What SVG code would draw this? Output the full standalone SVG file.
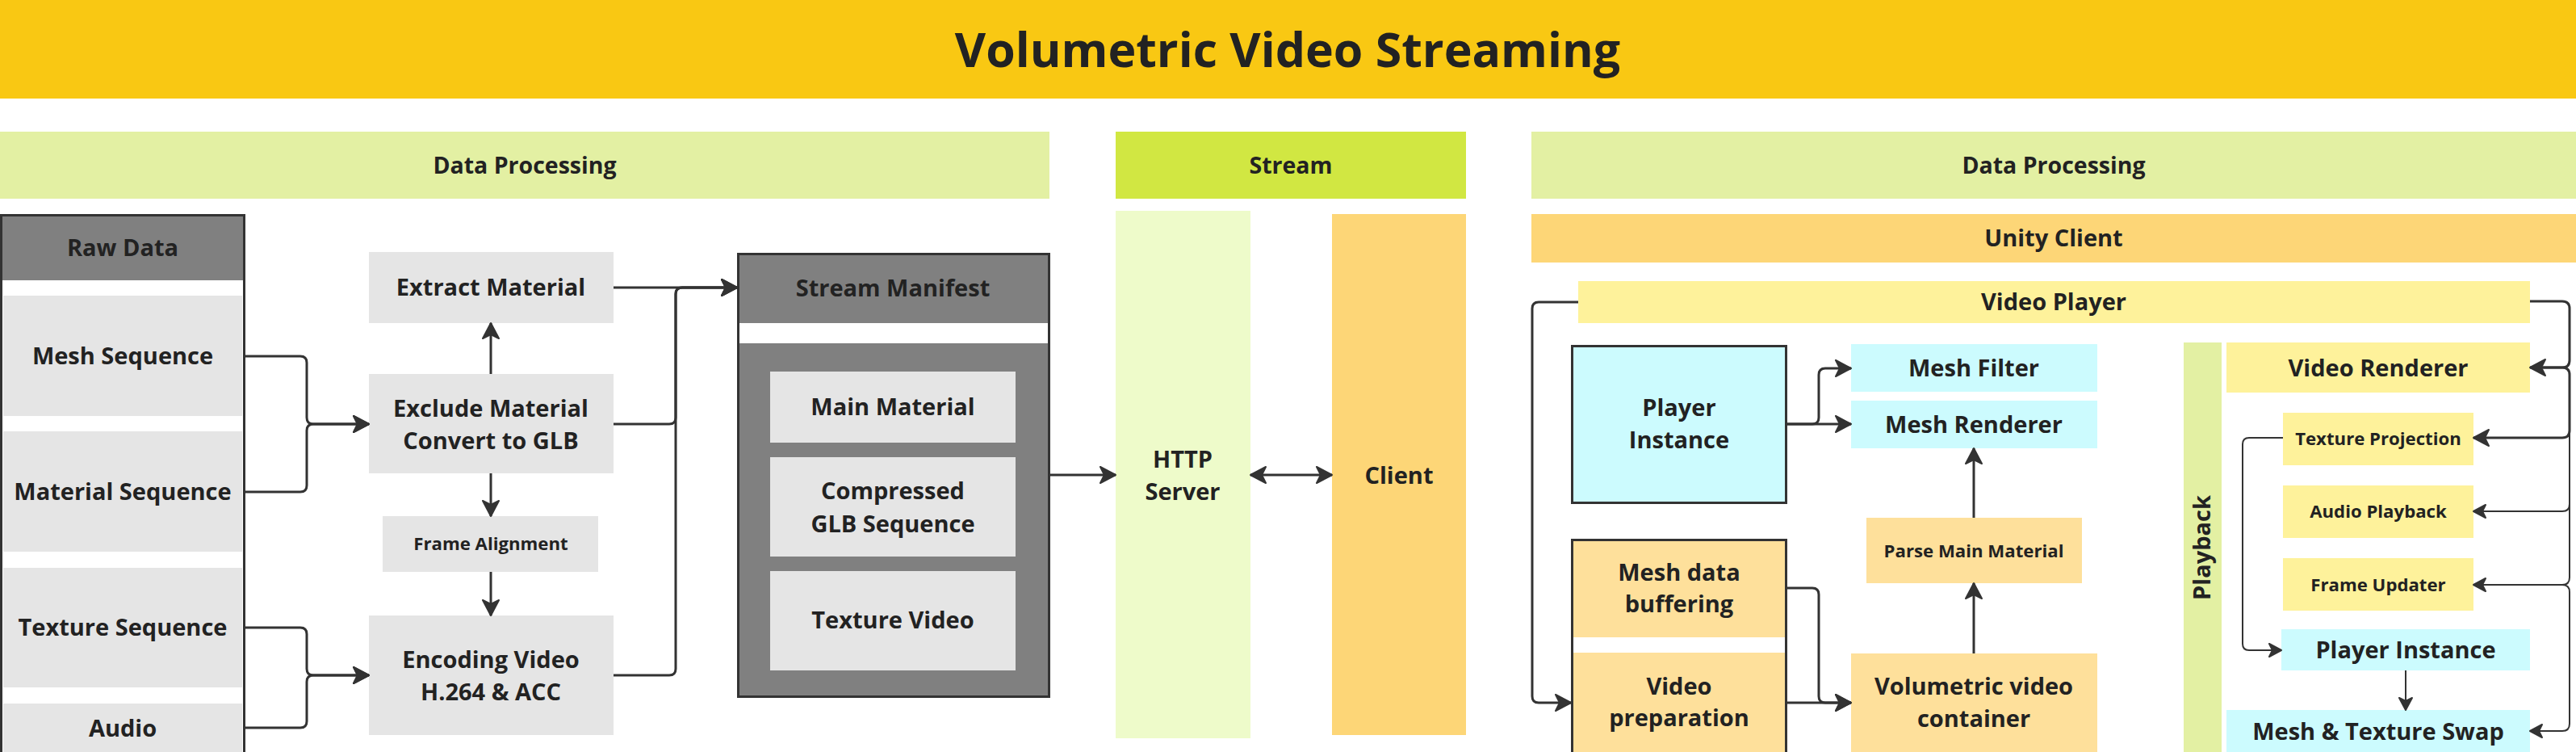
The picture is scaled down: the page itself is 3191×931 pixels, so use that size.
<svg xmlns="http://www.w3.org/2000/svg" width="3191" height="931" viewBox="0 0 3191 931">
<defs>
<marker id="ah" markerUnits="userSpaceOnUse" markerWidth="24" markerHeight="24" viewBox="0 0 24 24" refX="22" refY="12" orient="auto-start-reverse">
<path d="M3,2 L22,12 L3,22 L8,12 Z" fill="#333" stroke="#333" stroke-width="2" stroke-linejoin="round"/>
</marker>
<marker id="ahs" markerUnits="userSpaceOnUse" markerWidth="20" markerHeight="20" viewBox="0 0 20 20" refX="18" refY="10" orient="auto-start-reverse">
<path d="M3,2 L18,10 L3,18 L7,10 Z" fill="#333" stroke="#333" stroke-width="2" stroke-linejoin="round"/>
</marker>
</defs>
<style>
text{font-family:"Open Sans","Noto Sans","Liberation Sans",sans-serif;font-weight:700;fill:#222;text-anchor:middle}
.t{font-size:29px}
.s{font-size:22.2px}
.h{font-size:28.5px}
.title{font-size:59px;font-weight:700}
.gray{fill:#808080}
.lg{fill:#e5e5e5}
.cy{fill:#ccfbfe}
.or{fill:#fee09b}
.yl{fill:#fef29b}
.cl{fill:#fdd677}
.bx{fill:none;stroke:#333;stroke-width:3}
.c{fill:none;stroke:#333;stroke-width:3;stroke-linejoin:round}
.c2{fill:none;stroke:#333;stroke-width:2;stroke-linejoin:round}
</style>

<g id="title">
<rect x="0" y="0" width="3191" height="122" fill="#f9c813"/>
<text class="title" x="1595" y="83">Volumetric Video Streaming</text>
</g>

<g id="band-dp-left">
<rect x="0" y="163" width="1300" height="83" fill="#e3f0a3"/>
<text class="h" x="650" y="215">Data Processing</text>
</g>
<g id="band-stream">
<rect x="1382" y="163" width="434" height="83" fill="#d1e742"/>
<text class="h" x="1599" y="215">Stream</text>
</g>
<g id="band-dp-right">
<rect x="1897" y="163" width="1294" height="83" fill="#e3f0a3"/>
<text class="h" x="2544" y="215">Data Processing</text>
</g>

<g id="raw-data">
<rect x="1.5" y="266.5" width="301" height="700" fill="#fff"/>
<rect x="3" y="268" width="298" height="79" class="gray"/>
<text class="t" x="152" y="317">Raw Data</text>
<rect x="4" y="366" width="296" height="149" class="lg"/>
<text class="t" x="152" y="451">Mesh Sequence</text>
<rect x="4" y="534" width="296" height="149" class="lg"/>
<text class="t" x="152" y="619">Material Sequence</text>
<rect x="4" y="703" width="296" height="148" class="lg"/>
<text class="t" x="152" y="787">Texture Sequence</text>
<rect x="4" y="871" width="296" height="80" class="lg"/>
<text class="t" x="152" y="912">Audio</text>
<rect x="1.5" y="266.5" width="301" height="700" class="bx"/>
</g>

<g id="extract-material">
<rect x="457" y="312" width="303" height="88" class="lg"/>
<text class="t" x="608" y="366">Extract Material</text>
</g>
<g id="exclude-material">
<rect x="457" y="463" width="303" height="123" class="lg"/>
<text class="t" x="608" y="516">Exclude Material</text>
<text class="t" x="608" y="556">Convert to GLB</text>
</g>
<g id="frame-alignment">
<rect x="474" y="639" width="267" height="69" class="lg"/>
<text class="s" x="608" y="681">Frame Alignment</text>
</g>
<g id="encoding-video">
<rect x="457" y="762" width="303" height="148" class="lg"/>
<text class="t" x="608" y="827">Encoding Video</text>
<text class="t" x="608" y="867">H.264 &amp; ACC</text>
</g>

<g id="stream-manifest">
<rect x="914.5" y="314.5" width="385" height="548" fill="#808080"/>
<rect x="916" y="400" width="382" height="25" fill="#fff"/>
<text class="t" x="1106" y="367">Stream Manifest</text>
<rect x="954" y="460" width="304" height="88" class="lg"/>
<text class="t" x="1106" y="514">Main Material</text>
<rect x="954" y="566" width="304" height="123" class="lg"/>
<text class="t" x="1106" y="618">Compressed</text>
<text class="t" x="1106" y="659">GLB Sequence</text>
<rect x="954" y="707" width="304" height="123" class="lg"/>
<text class="t" x="1106" y="778">Texture Video</text>
<rect x="914.5" y="314.5" width="385" height="548" class="bx"/>
</g>

<g id="http-server">
<rect x="1382" y="261" width="167" height="653" fill="#eefbca"/>
<text class="t" x="1465" y="579">HTTP</text>
<text class="t" x="1465" y="619">Server</text>
</g>
<g id="client">
<rect x="1650" y="265" width="166" height="645" class="cl"/>
<text class="t" x="1733" y="599">Client</text>
</g>

<g id="unity-client">
<rect x="1897" y="265" width="1294" height="60" class="cl"/>
<text class="t" x="2544" y="305">Unity Client</text>
</g>
<g id="video-player">
<rect x="1955" y="348" width="1179" height="52" class="yl"/>
<text class="t" x="2544" y="384">Video Player</text>
</g>

<g id="player-instance">
<rect x="1947.5" y="428.5" width="265" height="194" class="cy" stroke="#333" stroke-width="3"/>
<text class="t" x="2080" y="515">Player</text>
<text class="t" x="2080" y="555">Instance</text>
</g>
<g id="mesh-filter">
<rect x="2293" y="426" width="305" height="59" class="cy"/>
<text class="t" x="2445" y="466">Mesh Filter</text>
</g>
<g id="mesh-renderer">
<rect x="2293" y="496" width="305" height="59" class="cy"/>
<text class="t" x="2445" y="536">Mesh Renderer</text>
</g>
<g id="parse-main-material">
<rect x="2312" y="641" width="267" height="81" class="or"/>
<text class="s" x="2445" y="690">Parse Main Material</text>
</g>
<g id="volumetric-container">
<rect x="2293" y="809" width="305" height="140" class="or"/>
<text class="t" x="2445" y="860">Volumetric video</text>
<text class="t" x="2445" y="900">container</text>
</g>
<g id="mesh-buffer-group">
<rect x="1947.5" y="668.5" width="265" height="290" fill="#fff"/>
<rect x="1949" y="670" width="262" height="119" class="or"/>
<text class="t" x="2080" y="719">Mesh data</text>
<text class="t" x="2080" y="758">buffering</text>
<rect x="1949" y="808" width="262" height="150" class="or"/>
<text class="t" x="2080" y="860">Video</text>
<text class="t" x="2080" y="899">preparation</text>
<rect x="1947.5" y="668.5" width="265" height="290" class="bx"/>
</g>

<g id="playback">
<rect x="2705" y="424" width="47" height="520" fill="#e3f0a3"/>
<text class="t" transform="translate(2738,678) rotate(-90)" x="0" y="0">Playback</text>
</g>
<g id="video-renderer">
<rect x="2758" y="424" width="376" height="62" class="yl"/>
<text class="t" x="2946" y="466">Video Renderer</text>
</g>
<g id="texture-projection">
<rect x="2828" y="511" width="236" height="65" class="yl"/>
<text class="s" x="2946" y="551">Texture Projection</text>
</g>
<g id="audio-playback">
<rect x="2828" y="601" width="236" height="65" class="yl"/>
<text class="s" x="2946" y="641">Audio Playback</text>
</g>
<g id="frame-updater">
<rect x="2828" y="691" width="236" height="65" class="yl"/>
<text class="s" x="2946" y="732">Frame Updater</text>
</g>
<g id="player-instance-2">
<rect x="2826" y="779" width="308" height="51" class="cy"/>
<text class="t" x="2980" y="815">Player Instance</text>
</g>
<g id="mesh-texture-swap">
<rect x="2758" y="879" width="376" height="70" class="cy"/>
<text class="t" x="2946" y="916">Mesh &amp; Texture Swap</text>
</g>

<g id="connectors">
<path class="c" d="M303,441 H372 Q380,441 380,449 V517 Q380,525 388,525 H457" marker-end="url(#ah)"/>
<path class="c" d="M303,609 H372 Q380,609 380,601 V533 Q380,525 388,525 H457" marker-end="url(#ah)"/>
<path class="c" d="M303,777 H372 Q380,777 380,785 V828 Q380,836 388,836 H457" marker-end="url(#ah)"/>
<path class="c" d="M303,901 H372 Q380,901 380,893 V844 Q380,836 388,836 H457" marker-end="url(#ah)"/>
<path class="c" d="M608,463 V400" marker-end="url(#ah)"/>
<path class="c" d="M608,586 V639" marker-end="url(#ah)"/>
<path class="c" d="M608,708 V762" marker-end="url(#ah)"/>
<path class="c" d="M760,356 H913" marker-end="url(#ah)"/>
<path class="c" d="M760,525 H829 Q837,525 837,517 V364 Q837,356 845,356 H913" marker-end="url(#ah)"/>
<path class="c" d="M760,836 H829 Q837,836 837,828 V364 Q837,356 845,356 H913" marker-end="url(#ah)"/>
<path class="c" d="M1301,588 H1382" marker-end="url(#ah)"/>
<path class="c" d="M1549,588 H1650" marker-start="url(#ah)" marker-end="url(#ah)"/>
<path class="c" d="M1955,374 H1906 Q1898,374 1898,382 V862 Q1898,870 1906,870 H1946" marker-end="url(#ah)"/>
<path class="c" d="M2214,525 H2293" marker-end="url(#ah)"/>
<path class="c" d="M2214,525 H2245 Q2253,525 2253,517 V464 Q2253,456 2261,456 H2293" marker-end="url(#ah)"/>
<path class="c" d="M2445,641 V555" marker-end="url(#ah)"/>
<path class="c" d="M2445,809 V722" marker-end="url(#ah)"/>
<path class="c" d="M2214,728 H2245 Q2253,728 2253,736 V862 Q2253,870 2261,870 H2293" marker-end="url(#ah)"/>
<path class="c" d="M2214,870 H2293" marker-end="url(#ah)"/>
<path class="c" d="M3134,373 H3174 Q3183,373 3183,382 V446 Q3183,455 3174,455 H3134" marker-end="url(#ah)"/>
<path class="c" d="M3150,455 H3174 Q3183,455 3183,464 V533 Q3183,542 3174,542 H3064" marker-end="url(#ah)"/>
<path class="c2" d="M3183,520 V624 Q3183,633 3174,633 H3064" marker-end="url(#ahs)"/>
<path class="c2" d="M3183,620 V715 Q3183,724 3174,724 H3064" marker-end="url(#ahs)"/>
<path class="c2" d="M3150,724 H3174 Q3183,724 3183,733 V896 Q3183,905 3174,905 H3134" marker-end="url(#ahs)"/>
<path class="c2" d="M2828,542 H2786 Q2778,542 2778,550 V797 Q2778,805 2786,805 H2826" marker-end="url(#ahs)"/>
<path class="c2" d="M2980,830 V879" marker-end="url(#ahs)"/>
</g>
</svg>
